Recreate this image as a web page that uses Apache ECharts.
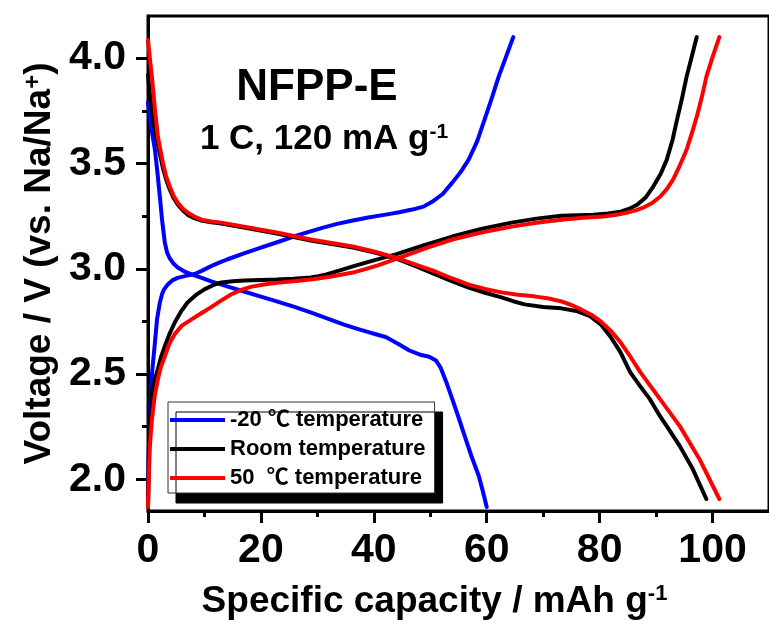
<!DOCTYPE html>
<html>
<head>
<meta charset="utf-8">
<script src="https://cdn.jsdelivr.net/npm/echarts@6/dist/echarts.min.js"></script>
<style>
html,body{margin:0;padding:0;background:#fff;}
#chart{width:769px;height:626px;}
</style>
</head>
<body>
<div id="chart"></div>
<script>
// ---- data: [specific capacity (mAh/g), voltage (V)] ----
var blueCharge = [[0,1.88],[0.1,2.10],[0.35,2.33],[0.7,2.50],[1.23,2.65],[1.6,2.76],[2.1,2.84],[2.5,2.88],[2.8,2.90],[3.2,2.915],[3.5,2.925],[4.3,2.945],[5.26,2.957],[6.5,2.965],[8.25,2.975],[9.5,2.99],[11,3.01],[12.5,3.028],[14.0,3.044],[17,3.073],[20,3.10],[23,3.127],[25.8,3.153],[28.5,3.175],[31,3.195],[33.5,3.213],[36.3,3.229],[39,3.243],[42.1,3.257],[44.5,3.268],[46.8,3.281],[48.8,3.295],[50.4,3.319],[52.2,3.355],[53.9,3.409],[55.4,3.460],[56.8,3.518],[58.3,3.605],[59.6,3.707],[60.9,3.810],[62.1,3.911],[63.4,4.005],[64.7,4.10]];
var blueDischarge = [[0,3.79],[0.5,3.68],[1.23,3.565],[1.7,3.45],[2.1,3.342],[2.5,3.23],[2.98,3.124],[3.4,3.075],[3.86,3.049],[4.5,3.025],[5.26,3.006],[6.4,2.988],[7.72,2.973],[9.5,2.957],[11.2,2.940],[14,2.916],[17.0,2.892],[20,2.868],[22.8,2.845],[25.8,2.820],[28.8,2.793],[31.7,2.765],[34.6,2.736],[36.8,2.717],[38.9,2.700],[40.5,2.688],[42.1,2.676],[44.2,2.645],[46.3,2.612],[48.2,2.592],[49.8,2.582],[51.0,2.565],[51.8,2.532],[52.8,2.465],[53.9,2.381],[55.0,2.295],[56.1,2.205],[57.3,2.110],[58.6,2.016],[59.3,1.945],[60.0,1.869]];
var blackCharge = [[0,1.869],[0.18,2.144],[0.35,2.286],[0.7,2.414],[1.2,2.475],[1.75,2.523],[2.3,2.58],[2.98,2.632],[3.8,2.690],[4.74,2.745],[5.8,2.795],[7.0,2.840],[8.5,2.876],[10.0,2.902],[11.5,2.922],[13.0,2.935],[15,2.941],[17.0,2.944],[20,2.947],[22.8,2.949],[25.8,2.953],[28.8,2.959],[30.2,2.965],[31.6,2.973],[34,2.992],[36.3,3.011],[40,3.040],[43.9,3.068],[48.9,3.112],[53.9,3.153],[59,3.189],[64.4,3.219],[68.8,3.238],[73.2,3.252],[78.9,3.257],[81.5,3.262],[83.7,3.271],[85.3,3.285],[86.7,3.305],[88.2,3.340],[89.5,3.390],[90.8,3.450],[91.9,3.518],[92.9,3.610],[93.7,3.707],[94.6,3.810],[95.4,3.911],[96.3,4.005],[97.2,4.10]];
var blackDischarge = [[0,3.92],[0.35,3.826],[0.88,3.707],[1.75,3.589],[2.63,3.480],[3.2,3.425],[3.86,3.376],[4.5,3.337],[5.26,3.305],[6.1,3.279],[7.0,3.257],[8.2,3.240],[9.47,3.229],[11.2,3.221],[13.0,3.215],[17.0,3.196],[22.8,3.167],[28.8,3.134],[36.3,3.101],[40,3.078],[43.9,3.049],[47.4,3.012],[50.9,2.973],[53.8,2.941],[56.8,2.911],[59.7,2.886],[62.6,2.864],[64.7,2.846],[66.7,2.831],[70,2.818],[73.2,2.812],[76.1,2.798],[78.3,2.775],[80.2,2.736],[82,2.675],[83.7,2.603],[85.4,2.509],[87.2,2.442],[88.9,2.381],[90.7,2.300],[92.5,2.228],[94.2,2.158],[96.5,2.049],[98.9,1.907]];
var redCharge = [[0,1.869],[0.18,2.049],[0.35,2.167],[0.7,2.286],[1.23,2.404],[1.75,2.475],[2.3,2.535],[2.98,2.584],[3.8,2.645],[4.74,2.690],[6.0,2.730],[7.72,2.760],[9.5,2.790],[11.2,2.818],[13.0,2.850],[14.7,2.878],[16.5,2.900],[18.2,2.914],[20.5,2.925],[22.8,2.933],[25.8,2.941],[28.8,2.949],[32.5,2.963],[36.3,2.982],[38.5,2.998],[40.7,3.016],[45.1,3.058],[49.5,3.100],[53.9,3.139],[59,3.172],[64.4,3.200],[68.8,3.218],[73.2,3.233],[77,3.242],[80.7,3.248],[83,3.256],[84.9,3.267],[86.4,3.277],[87.7,3.290],[89.3,3.312],[90.7,3.342],[91.9,3.378],[93.0,3.423],[94.2,3.490],[95.4,3.565],[96.3,3.640],[97.2,3.721],[98.1,3.815],[98.9,3.911],[100,4.005],[101.2,4.10]];
var redDischarge = [[0,4.086],[0.35,3.992],[0.7,3.911],[1.23,3.755],[1.75,3.627],[2.63,3.504],[3.2,3.440],[3.86,3.390],[4.5,3.348],[5.26,3.314],[6.1,3.287],[7.0,3.267],[8.2,3.248],[9.47,3.233],[11.2,3.225],[13.0,3.219],[17.0,3.200],[22.8,3.172],[28.8,3.139],[36.3,3.106],[40,3.082],[43.9,3.053],[47.4,3.020],[50.9,2.987],[53.8,2.955],[56.8,2.925],[59.7,2.904],[62.6,2.888],[65.5,2.877],[68.4,2.869],[71,2.859],[73.2,2.845],[75,2.828],[76.7,2.807],[78.5,2.782],[80.2,2.750],[82,2.705],[83.7,2.651],[85.5,2.580],[87.2,2.509],[90.7,2.381],[94.2,2.253],[97.7,2.096],[101.2,1.907]];

var seriesNames = ['-20 \u2103 temperature', 'Room temperature', '50  \u2103 temperature'];
var seriesColors = ['#0000ff', '#000000', '#ff0000'];

var xMajorTicks = [0, 20, 40, 60, 80, 100];
var xMinorTicks = [10, 30, 50, 70, 90];
var yMajorTicks = [2.0, 2.5, 3.0, 3.5, 4.0];
var yMinorTicks = [2.25, 2.75, 3.25, 3.75];

var FONT = '"Liberation Sans", Arial, "Noto Sans CJK SC", sans-serif';

var chart = echarts.init(document.getElementById('chart'), null, {renderer: 'canvas'});

function lineSeries(name, color, data) {
  return {
    type: 'line', name: name, data: data,
    xAxisIndex: 0, yAxisIndex: 0,
    showSymbol: false, symbol: 'none',
    smooth: false,
    lineStyle: {color: color, width: 4, join: 'round', cap: 'round'},
    itemStyle: {color: color},
    emphasis: {disabled: true},
    clip: true
  };
}

var gridRect = {left: 148, top: 16, width: 627, height: 495};

var option = {
  animation: false,
  backgroundColor: '#ffffff',
  grid: [
    Object.assign({show: true, borderColor: '#000', borderWidth: 3, backgroundColor: 'transparent'}, gridRect),
    Object.assign({show: false}, gridRect)
  ],
  xAxis: [
    {
      type: 'value', gridIndex: 0, min: 0, max: 110,
      axisLine: {show: true, onZero: false, lineStyle: {color: '#000', width: 3}},
      axisTick: {show: true, inside: false, length: 12, lineStyle: {color: '#000', width: 3}, customValues: xMajorTicks},
      axisLabel: {show: true, margin: 19, customValues: xMajorTicks, color: '#000', fontSize: 41, fontWeight: 'bold', fontFamily: FONT},
      splitLine: {show: false},
      name: 'Specific capacity / mAh g{s|-1}',
      nameLocation: 'middle', nameGap: 72,
      nameTextStyle: {color: '#000', fontSize: 37, fontWeight: 'bold', fontFamily: FONT, padding: [0, 48, 0, 0],
        rich: {s: {fontSize: 22, fontWeight: 'bold', fontFamily: FONT, color: '#000', verticalAlign: 'top'}}}
    },
    {
      type: 'value', gridIndex: 1, min: 0, max: 110,
      axisLine: {show: false, onZero: false},
      axisTick: {show: true, inside: false, length: 6, lineStyle: {color: '#000', width: 3}, customValues: xMinorTicks},
      axisLabel: {show: false},
      splitLine: {show: false}
    }
  ],
  yAxis: [
    {
      type: 'value', gridIndex: 0, min: 1.85, max: 4.2,
      axisLine: {show: true, onZero: false, lineStyle: {color: '#000', width: 3}},
      axisTick: {show: true, inside: false, length: 12, lineStyle: {color: '#000', width: 3}, customValues: yMajorTicks},
      axisLabel: {show: true, margin: 22, customValues: yMajorTicks, color: '#000', fontSize: 41, fontWeight: 'bold', fontFamily: FONT,
        formatter: function (v) { return v.toFixed(1); }},
      splitLine: {show: false},
      name: 'Voltage / V (vs. Na/Na{s|+})',
      nameLocation: 'middle', nameGap: 88,
      nameTextStyle: {color: '#000', fontSize: 37, fontWeight: 'bold', fontFamily: FONT,
        rich: {s: {fontSize: 24, fontWeight: 'bold', fontFamily: FONT, color: '#000', verticalAlign: 'top'}}}
    },
    {
      type: 'value', gridIndex: 1, min: 1.85, max: 4.2,
      axisLine: {show: false, onZero: false},
      axisTick: {show: true, inside: false, length: 6, lineStyle: {color: '#000', width: 3}, customValues: yMinorTicks},
      axisLabel: {show: false},
      splitLine: {show: false}
    }
  ],
  legend: {
    data: seriesNames,
    orient: 'vertical',
    left: 168, top: 402,
    icon: 'rect', itemWidth: 55, itemHeight: 4, itemGap: 7,
    padding: [7, 9, 4, 2],
    backgroundColor: '#ffffff',
    borderColor: '#333', borderWidth: 1,
    shadowColor: '#000', shadowBlur: 0, shadowOffsetX: 8, shadowOffsetY: 10,
    selectedMode: false,
    textStyle: {color: '#000', fontSize: 22, fontWeight: 'bold', fontFamily: FONT, lineHeight: 20}
  },
  graphic: [
    {
      type: 'text', x: 317, y: 88, silent: true,
      style: {text: 'NFPP-E', fill: '#000', fontSize: 44, fontWeight: 'bold', fontFamily: FONT, align: 'center', verticalAlign: 'middle'}
    },
    {
      type: 'text', x: 324, y: 139, silent: true,
      style: {text: '1 C, 120 mA g{s|-1}', fill: '#000', fontSize: 35, fontWeight: 'bold', fontFamily: FONT, align: 'center', verticalAlign: 'middle',
        rich: {s: {fontSize: 21, fontWeight: 'bold', fontFamily: FONT, fill: '#000', verticalAlign: 'top'}}}
    }
  ],
  series: [
    lineSeries(seriesNames[0], seriesColors[0], blueCharge),
    lineSeries(seriesNames[0], seriesColors[0], blueDischarge),
    lineSeries(seriesNames[1], seriesColors[1], blackCharge),
    lineSeries(seriesNames[1], seriesColors[1], blackDischarge),
    lineSeries(seriesNames[2], seriesColors[2], redCharge),
    lineSeries(seriesNames[2], seriesColors[2], redDischarge)
  ]
};
chart.setOption(option);
</script>
</body>
</html>
